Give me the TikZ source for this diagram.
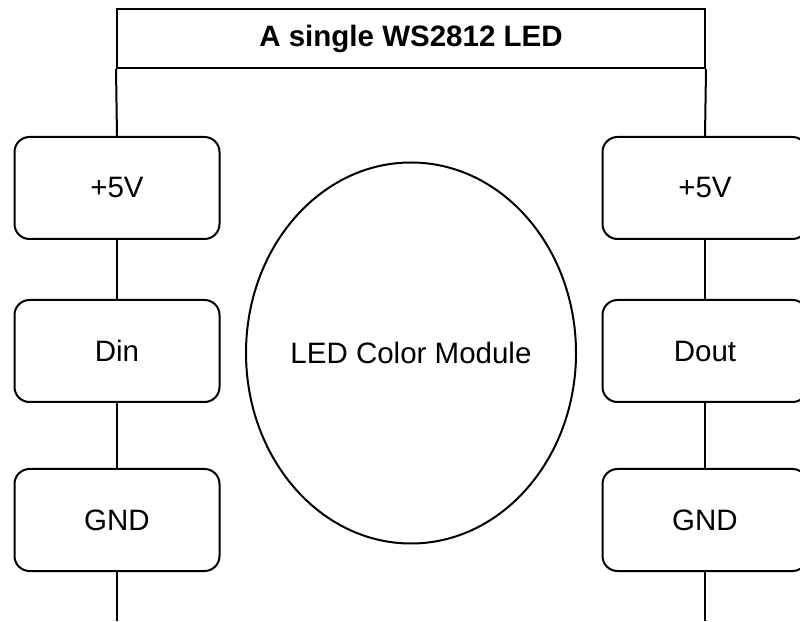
\documentclass[tikz,border=0pt]{standalone}
\usepackage{fontspec}
\setmainfont{Liberation Sans}
\usetikzlibrary{shapes.geometric}
\begin{document}
\begin{tikzpicture}[x=1pt,y=1pt,line width=2pt,
    pinbox/.style={draw,fill=white,rounded corners=15pt,minimum width=205pt,minimum height=102pt,font=\fontsize{29.5}{34}\selectfont},
    header/.style={draw,minimum width=588pt,minimum height=59pt,font=\fontsize{29.5}{34}\selectfont\bfseries}]
    \useasboundingbox (0,0) rectangle (800,621);
    \node[header] (title) at (411,582.5) {A single WS2812 LED};
    \coordinate (botL) at (117,0);
    \coordinate (botR) at (705,0);
    \node[pinbox] (vccL) at (117,433) {+5V};
    \node[pinbox] (din) at (117,270) {Din};
    \node[pinbox] (gndL) at (117,101) {GND};
    \node[pinbox] (vccR) at (705,433) {+5V};
    \node[pinbox] (dout) at (705,270) {Dout};
    \node[pinbox] (gndR) at (705,101) {GND};
    \node[draw,ellipse,minimum width=330pt,minimum height=381pt,inner xsep=-15pt,inner ysep=0pt,font=\fontsize{29.5}{34}\selectfont] (core) at (411,268) {LED Color Module};
    \draw (title.south west) -- (vccL.north);
    \draw (vccL) -- (din);
    \draw (din) -- (gndL);
    \draw (gndL) -- (botL);
    \draw (title.south east) -- (vccR.north);
    \draw (vccR) -- (dout);
    \draw (dout) -- (gndR);
    \draw (gndR) -- (botR);
\end{tikzpicture}
\end{document}
